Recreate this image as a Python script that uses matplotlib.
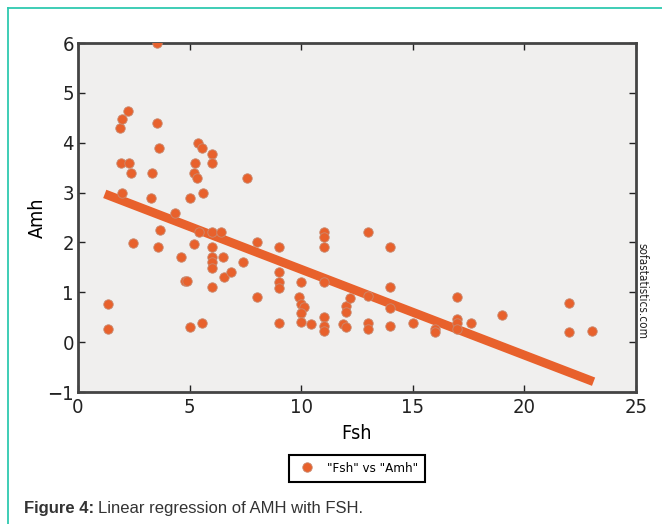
import numpy as np
import matplotlib
matplotlib.use("Agg")
import matplotlib.pyplot as plt
from matplotlib.lines import Line2D

# values
fsh = [1.34, 1.34, 1.89, 1.97, 2.23, 1.93, 2.27, 2.37, 1.97, 2.46,
       3.56, 3.56, 3.65, 3.31, 3.27, 3.69, 3.58, 4.33, 4.60, 4.79,
       4.90, 5.00, 5.00, 5.20, 5.37, 5.55, 5.24, 5.20, 5.32, 5.58,
       5.43, 5.55, 6.00, 6.00, 6.00, 6.00, 6.00, 6.00, 6.00, 6.00,
       6.42, 6.49, 6.55, 6.87, 7.40, 7.57, 8.00, 8.00, 9.00, 9.00,
       9.00, 9.00, 9.00, 10.00, 9.90, 10.00, 10.12, 10.00, 10.00, 10.43,
       11.00, 11.00, 11.00, 11.00, 11.00, 11.00, 11.00, 11.87, 12.00, 12.00,
       12.00, 12.17, 13.00, 13.00, 13.00, 13.00, 14.00, 14.00, 14.00, 14.00,
       15.03, 16.00, 16.00, 17.00, 17.00, 17.00, 17.00, 17.60, 19.00, 22.00,
       22.00, 23.03]
amh = [0.77, 0.26, 4.30, 4.48, 4.64, 3.60, 3.60, 3.39, 3.00, 1.99,
       6.00, 4.40, 3.89, 3.39, 2.89, 2.24, 1.90, 2.60, 1.70, 1.23,
       1.23, 0.30, 2.89, 1.96, 4.00, 3.89, 3.60, 3.39, 3.30, 3.00,
       2.20, 0.38, 3.78, 3.60, 2.20, 1.90, 1.70, 1.60, 1.48, 1.10,
       2.20, 1.70, 1.30, 1.40, 1.60, 3.30, 2.01, 0.90, 1.90, 1.40,
       1.21, 1.09, 0.38, 1.20, 0.90, 0.76, 0.71, 0.59, 0.40, 0.37,
       2.20, 2.10, 1.90, 1.21, 0.50, 0.32, 0.22, 0.37, 0.72, 0.60,
       0.30, 0.89, 2.20, 0.93, 0.38, 0.26, 1.90, 1.10, 0.69, 0.32,
       0.38, 0.26, 0.20, 0.90, 0.46, 0.38, 0.26, 0.38, 0.54, 0.79,
       0.20, 0.23]
fit_x = [1.2, 23.1]
fit_intercept = 3.18
fit_slope = -0.172

ORANGE = "#e8612c"

plt.rcParams["font.family"] = ["DejaVu Sans"]
plt.rcParams["font.stretch"] = "condensed"

fig = plt.figure(figsize=(6.62, 5.24), dpi=100)
ax = fig.add_axes([0.1178, 0.2519, 0.8429, 0.666])
ax.set_facecolor("#f0efee")

xfit = np.array(fit_x)
ax.plot(xfit, fit_intercept + fit_slope * xfit, color=ORANGE, lw=6.4,
        solid_capstyle="butt", zorder=3)
ax.plot(fsh, amh, "o", ms=6.8, mfc=ORANGE, mec="#c98a70", mew=0.6, zorder=4)

ax.set_xlim(0, 25); ax.set_ylim(-1, 6)
ax.set_xticks([0, 5, 10, 15, 20, 25])
ax.set_yticks([-1, 0, 1, 2, 3, 4, 5, 6])
ax.set_yticklabels(["\u22121", "0", "1", "2", "3", "4", "5", "6"])
ax.tick_params(direction="in", length=5, width=1, top=True, right=True,
               labelsize=14.5, colors="#222222", pad=4)
ax.tick_params(axis="y", pad=3)
for s in ax.spines.values():
    s.set_linewidth(2); s.set_color("#444444")
ax.set_xlabel("Fsh", fontsize=14, labelpad=5)
ax.set_ylabel("Amh", fontsize=14, labelpad=0)

h = Line2D([], [], ls="", marker="o", ms=6.8, mfc=ORANGE, mec="#c98a70", mew=0.6)
leg = ax.legend([h], ['"Fsh" vs "Amh"'], loc="upper center", bbox_to_anchor=(0.5, -0.163),
                numpoints=1, fancybox=False, framealpha=1, fontsize=9.5,
                borderpad=0.5, handletextpad=0.6, handlelength=1.8)
leg.get_frame().set_edgecolor("black"); leg.get_frame().set_linewidth(1.5)

fig.text(0.969, 0.445, "sofastatistics.com", rotation=-90, fontsize=8.5,
         ha="center", va="center", color="#222222")

# caption
fig.text(24 / 662, 1 - 508 / 524, "Figure 4:", fontsize=12, fontweight="bold",
         family=["Liberation Sans"], stretch="normal", color="#333333", va="center")
fig.text(98 / 662, 1 - 508 / 524, "Linear regression of AMH with FSH.", fontsize=12,
         family=["Liberation Sans"], stretch="normal", color="#333333", va="center")

# teal frame of the page
fig.add_artist(Line2D([8 / 662, 8 / 662], [0, 1 - 8 / 524], color="#2fc9b0", lw=1.3))
fig.add_artist(Line2D([8 / 662, 1], [1 - 8 / 524, 1 - 8 / 524], color="#2fc9b0", lw=1.3))

fig.savefig("out.png", dpi=100)
